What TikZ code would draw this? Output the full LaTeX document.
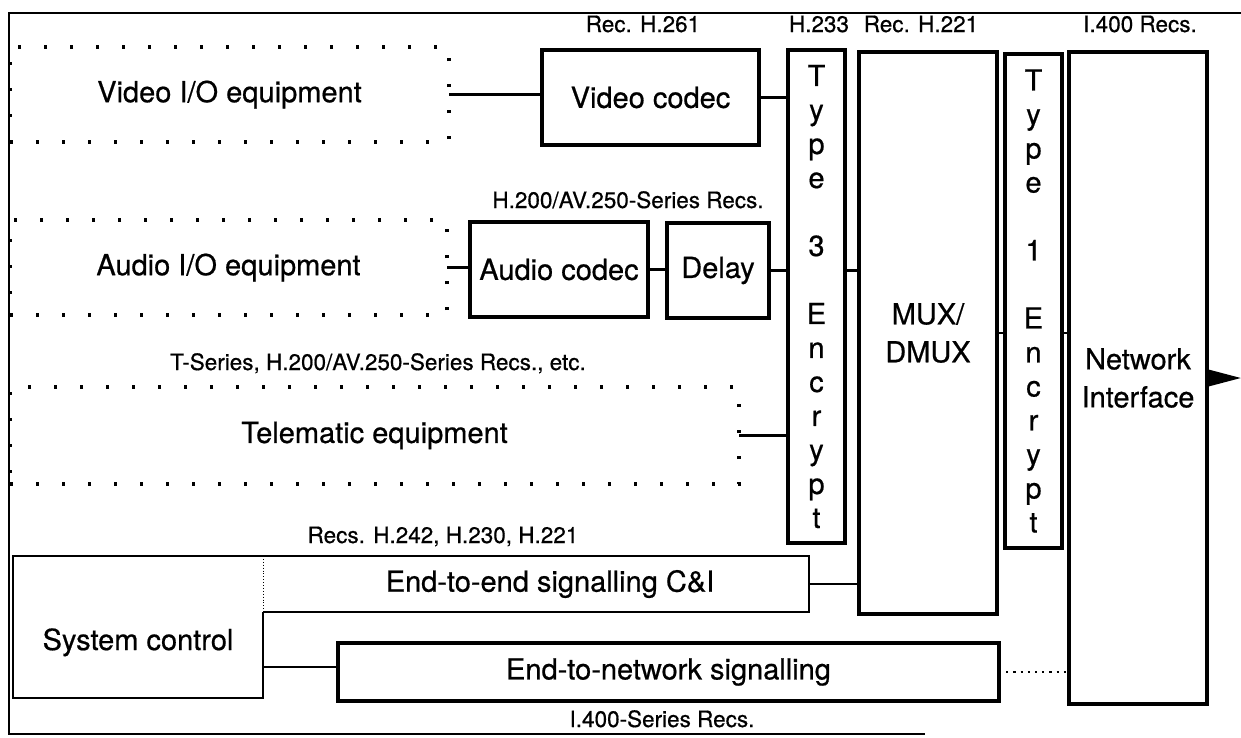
\documentclass[tikz,border=0pt]{standalone}
\usepackage{fontspec}
\setmainfont{TeX Gyre Heros}[FakeBold=0.6]
\usetikzlibrary{arrows.meta}
\newcommand{\BigTxt}{\fontsize{29}{34}\selectfont}
\newcommand{\TwoTxt}{\fontsize{29}{38}\selectfont}
\newcommand{\SmallTxt}{\fontsize{22.5}{26}\selectfont}
\begin{document}
\begin{tikzpicture}[x=1pt,y=-1pt,
  box/.style={draw, line width=3.2pt, inner sep=0pt, outer sep=0pt, anchor=north west, font=\BigTxt, align=center},
  twobox/.style={box, font=\TwoTxt},
  dotbox/.style={draw, line width=3.4pt, dash pattern=on 3.4pt off 22.6pt, inner sep=0pt, outer sep=0pt, anchor=north west, font=\BigTxt},
  plainbox/.style={inner sep=0pt, outer sep=0pt, anchor=north west, font=\BigTxt},
  thinline/.style={line width=2pt},
  conn/.style={line width=2.6pt},
  dotconn/.style={line width=2.6pt, dash pattern=on 2.2pt off 5pt},
  lab/.style={font=\SmallTxt, anchor=base, inner sep=0pt},
  frame/.style={line width=2.2pt}]
\useasboundingbox (0,0) rectangle (1241,737);

% frame
\draw[frame] (1241,13) -- (9,13) -- (9,734) -- (925,734);

% dotted equipment boxes
\node[dotbox, minimum width=439pt, minimum height=95pt] (vio) at (10,47) {Video I/O equipment};
\node[dotbox, minimum width=437pt, minimum height=95pt] (aio) at (10,220) {Audio I/O equipment};
\node[dotbox, minimum width=729pt, minimum height=97pt] (tel) at (10,387) {Telematic equipment};

% solid boxes
\node[box, minimum width=217pt, minimum height=95pt] (vcod) at (542,50) {Video codec};
\node[box, minimum width=178pt, minimum height=95pt] (acod) at (470,222) {Audio codec};
\node[box, minimum width=102pt, minimum height=95pt] (del) at (667,223) {Delay};
\node[box, minimum width=57pt, minimum height=493pt] (t3) at (788,50)
  {T\\y\\p\\e\\\mbox{}\\3\\\mbox{}\\E\\n\\c\\r\\y\\p\\t};
\node[twobox, minimum width=138pt, minimum height=562pt] (mux) at (859,52) {MUX/\\DMUX};
\node[box, minimum width=57pt, minimum height=494pt] (t1) at (1005,54)
  {T\\y\\p\\e\\\mbox{}\\1\\\mbox{}\\E\\n\\c\\r\\y\\p\\t};
\node[twobox, minimum width=138pt, minimum height=652pt] (ni) at (1069,52) {Network\\Interface};

% signalling
\node[plainbox, minimum width=250pt, minimum height=142pt, text height=46pt, text depth=0pt] (sys) at (13,556) {System control};
\node[plainbox, minimum width=546pt, minimum height=56pt] (ee) at (263,556) {\hspace*{28pt}End-to-end signalling C\&I};
\node[box, minimum width=661pt, minimum height=58pt] (en) at (338,643) {End-to-network signalling};

\draw[thinline] (ee.south west) -- (sys.south east) -- (sys.south west) -- (sys.north west) -- (ee.north east) -- (ee.south east);
\draw[line width=2.8pt] (ee.north east) -- (ee.south east) -- (ee.south west);
\draw[line width=0.9pt, dotted] (sys.north east) -- (ee.south west);

% labels
\node[lab] (l261) at (643,32) {Rec. H.261};
\node[lab] (l233) at (819,32) {H.233};
\node[lab] (l221) at (921,32) {Rec. H.221};
\node[lab] (l400) at (1140,32) {I.400 Recs.};
\node[lab] (lav) at (628,208) {H.200/AV.250-Series Recs.};
\node[lab] (lts) at (378,370) {T-Series, H.200/AV.250-Series Recs., etc.};
\node[lab] (l242) at (443,543) {Recs. H.242, H.230, H.221};
\node[lab] (l400s) at (662,727) {I.400-Series Recs.};

% connectors
\draw[conn] (vio.east) -- (vio.east -| vcod.west);
\draw[conn] (vcod.east) -- (vcod.east -| t3.west);
\draw[conn] (aio.east) -- (aio.east -| acod.west);
\draw[conn] (acod.east) -- (acod.east -| del.west);
\draw[conn] (del.east) -- (del.east -| t3.west);
\draw[conn] (t3.east |- del.east) -- (mux.west |- del.east);
\draw[conn] (tel.east) -- (tel.east -| t3.west);
\draw[conn] (mux.east) -- (mux.east -| t1.west);
\draw[conn] (t1.east |- mux.east) -- (ni.west |- mux.east);
\draw[conn] (ee.east) -- (ee.east -| mux.west);
\path ([yshift=5pt]en.west) coordinate (enw);
\draw[conn] (enw) -- (enw -| sys.east);
\draw[dotconn] (en.east) -- (en.east -| ni.west);
\coordinate (out) at (1241,378);
\draw[conn, -{Triangle[length=32pt,width=16pt]}] (ni.east) -- (ni.east -| out);
\end{tikzpicture}
\end{document}
